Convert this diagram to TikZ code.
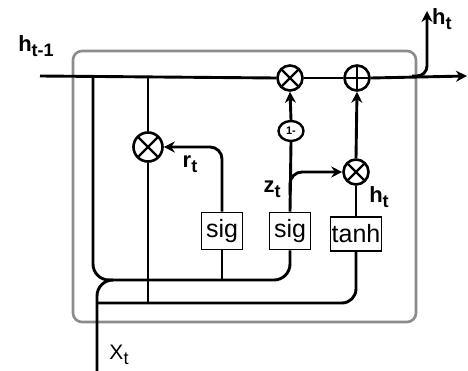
\documentclass[tikz,border=0pt]{standalone}
\usepackage{fontspec}
\setmainfont{Liberation Sans}
\usetikzlibrary{arrows.meta,positioning,shapes.geometric}
\definecolor{cellgray}{HTML}{8C8C8C}
\newcommand{\lowsub}[1]{\raisebox{-0.45ex}{\fontsize{18}{18}\selectfont #1}}

\begin{document}
\begin{tikzpicture}[
  x=1pt, y=-1pt,
  wire/.style={draw=black, line width=2.9pt, rounded corners=14pt},
  flow/.style={wire, -{Stealth[length=11pt, width=11pt]}},
  gate/.style={draw, line width=1.7pt, fill=white, minimum width=41pt, minimum height=37pt, inner sep=0pt, font=\fontsize{25}{25}\selectfont},
  op/.style={draw, circle, line width=2.6pt, fill=white, minimum size=25pt, inner sep=0pt},
  mul/.style={op, path picture={\draw[line width=2.2pt] (path picture bounding box.north west) -- (path picture bounding box.south east) (path picture bounding box.north east) -- (path picture bounding box.south west);}},
  add/.style={op, path picture={\draw[line width=2.2pt] (path picture bounding box.north) -- (path picture bounding box.south) (path picture bounding box.west) -- (path picture bounding box.east);}},
  inv/.style={draw, ellipse, line width=2.4pt, fill=white, minimum width=25pt, minimum height=20pt, inner sep=0pt, font=\fontsize{11}{11}\selectfont\bfseries},
  lbl/.style={font=\bfseries\fontsize{22}{22}\selectfont, inner sep=0pt},
]
\useasboundingbox (0,0) rectangle (468,371);
\draw[cellgray, line width=2.6pt, rounded corners=9pt] (73,51) rectangle (416,322);

\node[mul, minimum size=29pt] (rmul) at (148,147) {};
\node[mul] (hmul) at (290,78) {};
\node[add] (sum) at (357,78) {};
\node[mul] (cmul) at (356,172) {};
\node[inv] (one) at (291,131) {1-};
\node[gate] (sigr) at (222,231) {sig};
\node[gate] (sigz) at (290,231) {sig};
\node[gate, minimum width=51pt, minimum height=34pt] (tanh) at (356,234) {tanh};

\coordinate (hin) at (40,76);
\coordinate (hout) at (467,76);
\coordinate (hbr) at (412,76);
\coordinate (htop) at (427,11);
\coordinate (htap) at (93,76);
\coordinate (cusp) at (108,280);
\coordinate (xin) at (97,371);
\coordinate (xj) at (97,303);
\coordinate (zsplit) at (290,195);

\draw[wire] (hin) -- (hmul.west);
\draw[wire] (hmul.east) -- (sum.west);
\draw[flow] (sum.east) -- (hout);
\draw[flow, rounded corners=10pt] (hbr) -| (htop);
\draw[wire] (rmul.north) -- (rmul.north |- hin);
\draw[wire] (rmul.south) -- (rmul.south |- xj);
\draw[wire, rounded corners=16pt] (htap) |- (sigz.south |- cusp) -- (sigz.south);
\draw[wire, rounded corners=16pt] (xin) |- (cusp);
\draw[wire] (xj) -| (tanh.south);
\draw[wire] (sigr.south) -- (sigr.south |- cusp);
\draw[flow, rounded corners=12pt] (sigr.north) |- (rmul.east);
\draw[wire] (sigz.north) -- (one.south);
\draw[flow] (one.north) -- (hmul.south);
\draw[flow, rounded corners=12pt] (zsplit) |- (cmul.west);
\draw[wire] (tanh.north) -- (cmul.south);
\draw[flow] (cmul.north) -- (sum.south);

\node[lbl] (hprev) at (36,46) {h\lowsub{t-1}};
\node[lbl, anchor=west] (hnew) at (432,19) {h\lowsub{t}};
\node[lbl] (rlbl) at (190,164) {r\lowsub{t}};
\node[lbl] (zlbl) at (272,189) {z\lowsub{t}};
\node[lbl] (hcand) at (379,197) {h\lowsub{t}};
\node[font=\fontsize{21}{21}\selectfont, inner sep=0pt] (xlbl) at (119,355) {X\lowsub{t}};
\end{tikzpicture}
\end{document}
